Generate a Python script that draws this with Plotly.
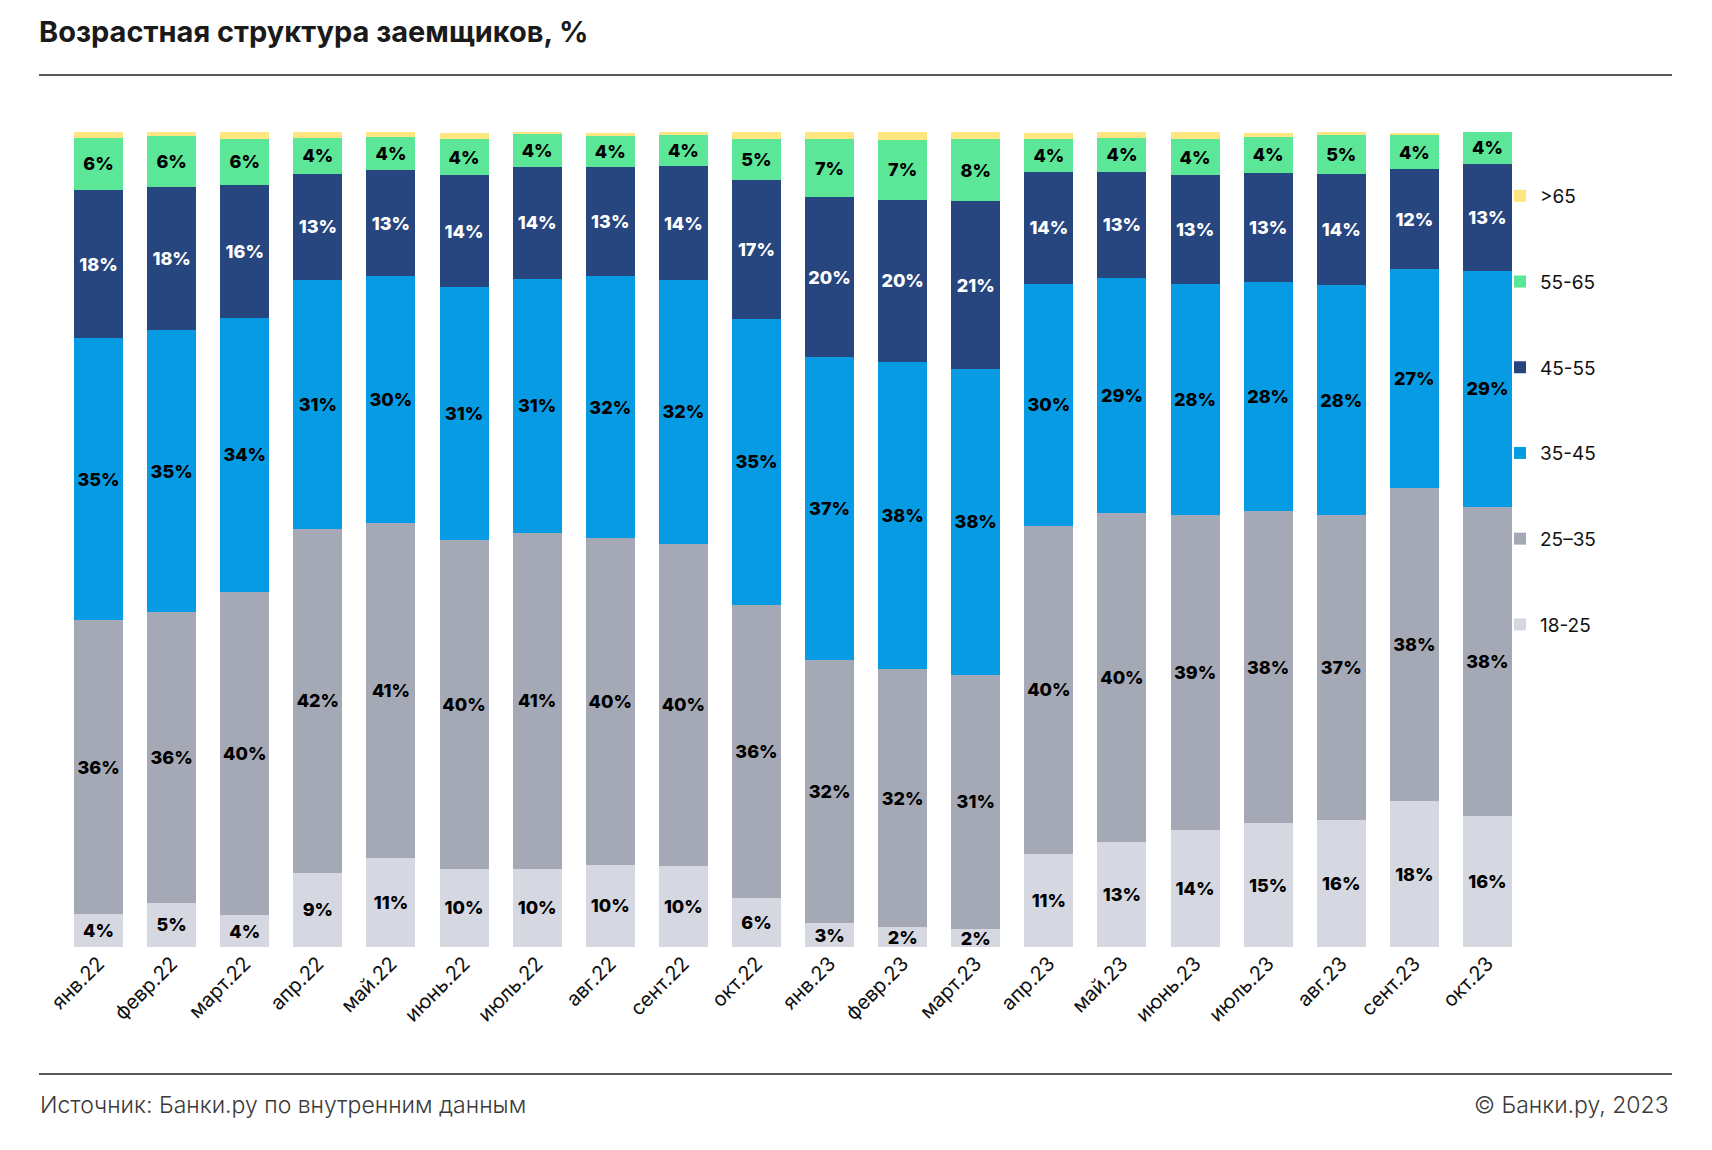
import plotly.graph_objects as go

# ---------------- data ----------------
months = ["янв.22", "февр.22", "март.22", "апр.22", "май.22", "июнь.22", "июль.22",
          "авг.22", "сент.22", "окт.22", "янв.23", "февр.23", "март.23", "апр.23",
          "май.23", "июнь.23", "июль.23", "авг.23", "сент.23", "окт.23"]

age_groups = ["18-25", "25–35", "35-45", "45-55", "55-65", ">65"]

share_18_25 = [4.0, 5.4, 3.9, 9.1, 10.9, 9.6, 9.6, 10.1, 9.9, 6.0,
               2.9, 2.4, 2.2, 11.4, 12.9, 14.4, 15.2, 15.6, 17.9, 16.1]
share_25_35 = [36.1, 35.7, 39.7, 42.2, 41.1, 40.4, 41.2, 40.1, 39.6, 36.0,
               32.3, 31.7, 31.2, 40.3, 40.4, 38.6, 38.3, 37.4, 38.4, 37.9]
share_35_45 = [34.6, 34.6, 33.6, 30.6, 30.3, 31.0, 31.2, 32.1, 32.3, 35.1,
               37.2, 37.7, 37.5, 29.7, 28.8, 28.4, 28.1, 28.2, 26.9, 29.0]
share_45_55 = [18.2, 17.6, 16.3, 13.0, 13.0, 13.7, 13.7, 13.4, 14.0, 17.0,
               19.6, 19.9, 20.6, 13.7, 13.0, 13.3, 13.4, 13.6, 12.2, 13.1]
share_55_65 = [6.4, 6.2, 5.7, 4.4, 4.1, 4.4, 4.0, 3.8, 3.8, 5.0,
               7.1, 7.3, 7.6, 4.1, 4.2, 4.4, 4.4, 4.8, 4.2, 4.0]
share_65_plus = [0.65, 0.5, 0.9, 0.65, 0.65, 0.8, 0.3, 0.4, 0.4, 1.0,
                 1.0, 1.0, 1.0, 0.65, 0.65, 0.85, 0.45, 0.45, 0.3, 0.1]

series = [share_18_25, share_25_35, share_35_45, share_45_55, share_55_65, share_65_plus]
colors = ["#D5D8E0", "#A5A9B5", "#069BE3", "#27467F", "#5CE698", "#FDE57F"]
label_colors = ["#000000", "#000000", "#000000", "#FFFFFF", "#000000", "#000000"]
show_labels = [True, True, True, True, True, False]

title_text = "Возрастная структура заемщиков, %"
source_text = "Источник: Банки.ру по внутренним данным"
copyright_text = "© Банки.ру, 2023"

# ---------------- layout geometry (pixels) ----------------
W, H = 1712, 1150
L, R, T, B = 62, 1524, 132, 947


def px(x):
    return (x - L) / (R - L)


def py(y):
    return (B - y) / (B - T)


FONT = "Inter, Roboto, 'Open Sans', sans-serif"

fig = go.Figure()
n = len(age_groups)
for i, (name, vals, col, lcol, show) in enumerate(zip(age_groups, series, colors, label_colors, show_labels)):
    fig.add_trace(go.Bar(
        x=months, y=vals, name=name, legendgroup=name, legendrank=n - i,
        marker=dict(color=col, line=dict(width=0)),
        text=[f"{round(v):d}%" for v in vals] if show else None,
        textposition="inside" if show else "none",
        insidetextanchor="middle",
        textangle=0,
        textfont=dict(color=lcol, size=18, family=FONT, weight=800),
        hoverinfo="x+y+name",
    ))

fig.update_layout(
    width=W, height=H,
    barmode="stack",
    bargap=0.33,
    plot_bgcolor="white", paper_bgcolor="white",
    margin=dict(l=L, r=W - R, t=T, b=H - B, pad=0),
    font=dict(family=FONT, color="#111111"),
    uniformtext=dict(minsize=18, mode="show"),
    showlegend=True,
    legend=dict(
        orientation="v",
        traceorder="grouped",
        tracegroupgap=58,
        x=px(1500), xanchor="left",
        y=py(177), yanchor="top",
        font=dict(size=19, family=FONT, color="#111111"),
        bgcolor="rgba(0,0,0,0)",
        itemclick=False, itemdoubleclick=False,
    ),
    xaxis=dict(
        type="category", tickangle=-45,
        tickfont=dict(size=20, family=FONT, color="#111111"),
        showline=False, showgrid=False, zeroline=False, ticks="",
        range=[-0.5, len(months) - 0.5],
    ),
    yaxis=dict(visible=False, range=[0, 100], fixedrange=True),
)

# title
fig.add_annotation(
    text=f"<b>{title_text}</b>", xref="paper", yref="paper",
    x=px(37), y=py(31), xanchor="left", yanchor="middle", showarrow=False,
    font=dict(size=29, family=FONT, color="#1A1A1A", weight=800),
)
# footer texts
fig.add_annotation(
    text=source_text, xref="paper", yref="paper",
    x=px(38), y=py(1105), xanchor="left", yanchor="middle", showarrow=False,
    font=dict(size=23, family=FONT, color="#3A3A3A", weight=300),
)
fig.add_annotation(
    text=copyright_text, xref="paper", yref="paper",
    x=px(1671), y=py(1105), xanchor="right", yanchor="middle", showarrow=False,
    font=dict(size=23, family=FONT, color="#3A3A3A", weight=300),
)
# separator lines
for yy in (75, 1074):
    fig.add_shape(type="line", xref="paper", yref="paper",
                  x0=px(39), x1=px(1672), y0=py(yy), y1=py(yy),
                  line=dict(color="#222222", width=1.3))

fig.write_html("out.html", config={"displayModeBar": False},
               post_script="document.body.style.margin='0';")
